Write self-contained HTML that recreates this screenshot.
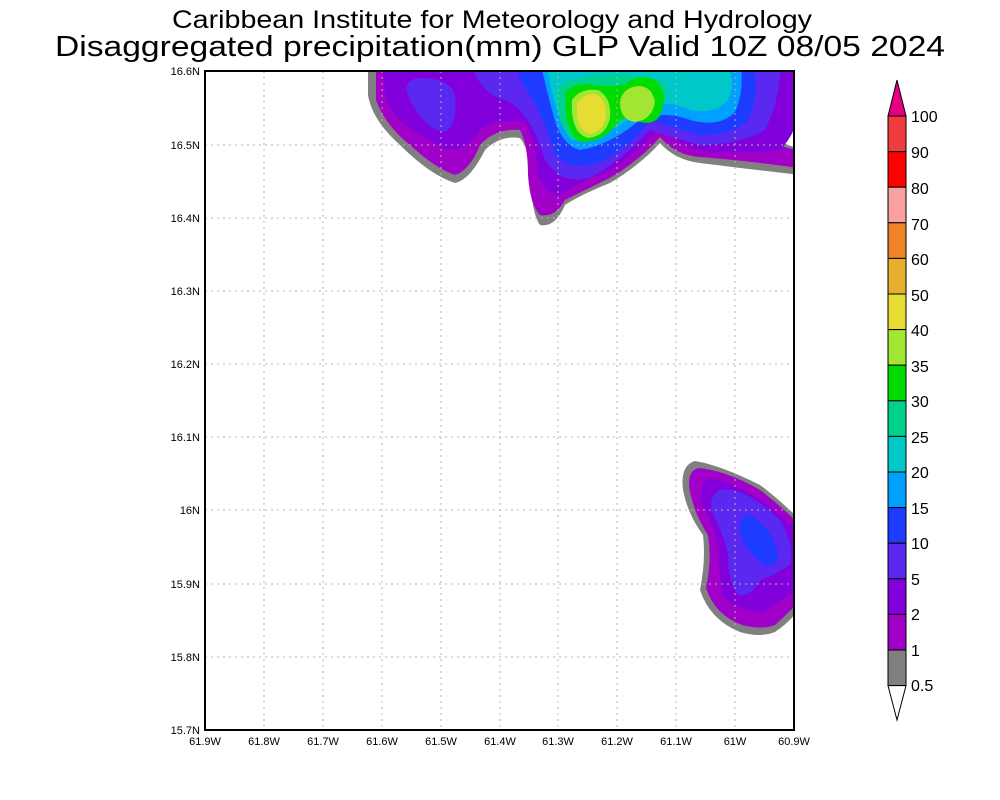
<!DOCTYPE html>
<html><head><style>
body{margin:0;background:#fff;}
svg{display:block;}
text{font-family:"Liberation Sans",sans-serif;}
</style></head><body>
<svg width="1000" height="800" xmlns="http://www.w3.org/2000/svg">
<rect width="1000" height="800" fill="#fff"/>
<text x="172" y="28" font-size="25" textLength="640" lengthAdjust="spacingAndGlyphs" fill="#000">Caribbean Institute for Meteorology and Hydrology</text>
<text x="55" y="56" font-size="29" textLength="890" lengthAdjust="spacingAndGlyphs" fill="#000">Disaggregated precipitation(mm) GLP Valid 10Z 08/05 2024</text>
<defs><clipPath id="c"><rect x="205" y="71" width="589" height="659"/></clipPath></defs>
<g clip-path="url(#c)">
<path fill="#808080" d="M368,60 L368,95 Q372,120 400,145 Q430,175 455,183 Q470,180 485,150 Q500,135 520,138 Q530,150 530,175 Q532,215 540,225 Q555,228 565,205 Q580,195 610,183 Q640,165 660,143 Q675,160 700,163 Q740,168 800,175 L800,148 Q780,145 772,133 Q778,120 800,118 L800,60 Z"/>
<path fill="#a000c8" d="M376,60 L376,100 Q385,125 410,145 Q435,168 455,175 Q470,170 480,145 Q495,128 520,130 Q528,145 528,175 Q530,205 540,215 Q555,218 565,200 Q585,190 610,178 Q640,160 660,137 Q675,155 700,157 Q740,160 800,168 L800,150 Q775,148 766,133 Q772,115 800,112 L800,60 Z"/>
<path fill="#8200dc" d="M385,60 Q380,95 395,115 Q420,140 450,150 Q470,148 480,130 Q495,118 525,122 Q535,140 538,175 Q545,195 560,195 Q580,182 610,170 Q640,150 660,128 Q680,145 700,150 Q740,155 780,150 Q795,135 800,110 L800,60 Z"/>
<path fill="#5a28f0" d="M470,60 Q480,95 505,100 Q530,110 545,160 Q560,185 590,178 Q620,162 650,130 Q680,140 700,145 Q740,145 765,130 Q775,110 778,90 Q782,70 780,60 Z"/>
<path fill="#5a28f0" d="M410,100 Q400,80 420,78 Q450,78 455,95 Q458,125 445,132 Q425,130 410,100 Z"/>
<path fill="#1e3cff" d="M515,60 Q518,80 530,95 Q545,120 555,155 Q570,172 600,162 Q630,148 650,120 Q680,130 700,135 Q735,135 748,120 Q758,100 755,75 L752,60 Z"/>
<path fill="#00a0ff" d="M540,60 Q545,85 552,110 Q560,145 580,150 Q610,145 640,120 Q665,110 690,120 Q720,128 735,112 Q745,90 740,60 Z"/>
<path fill="#00c8c8" d="M548,72 Q553,100 562,125 Q575,140 600,135 Q625,125 645,105 Q670,100 690,110 Q715,115 728,100 Q735,85 730,72 Z"/>
<path fill="#00d28c" d="M558,88 Q556,125 572,140 Q600,142 620,122 Q640,112 660,104 Q672,95 664,82 Q640,72 600,76 Q568,78 558,88 Z"/>
<path fill="#00dc00" d="M566,92 Q563,130 580,142 Q605,142 615,125 Q625,112 640,122 Q658,126 662,110 Q668,92 655,80 Q640,73 625,84 Q610,88 595,85 Q574,82 566,92 Z"/>
<path fill="#a0e632" d="M572,100 Q570,133 588,138 Q606,136 610,118 Q612,98 598,90 Q580,88 572,100 Z"/>
<path fill="#a0e632" d="M620,102 Q620,120 635,122 Q652,120 655,102 Q652,86 638,86 Q622,88 620,102 Z"/>
<path fill="#e6dc32" d="M577,104 Q575,130 590,134 Q603,132 606,116 Q606,98 595,94 Q582,94 577,104 Z"/>
<path fill="#808080" d="M695,461 Q680,465 683,490 Q688,515 703,535 Q706,560 700,590 Q710,620 740,632 Q760,638 775,632 Q790,622 800,608 L800,520 Q780,500 760,485 Q720,465 695,461 Z"/>
<path fill="#a000c8" d="M698,468 Q686,472 690,492 Q695,515 708,535 Q712,560 706,588 Q715,615 742,625 Q762,630 775,625 Q790,612 800,600 L800,525 Q780,505 760,490 Q725,470 698,468 Z"/>
<path fill="#8200dc" d="M710,478 Q697,485 703,505 Q713,525 718,545 Q720,575 722,595 Q740,612 762,612 Q785,600 800,585 L800,535 Q780,512 755,497 Q730,482 710,478 Z"/>
<path fill="#5a28f0" d="M720,490 Q708,497 712,512 Q722,530 728,555 Q728,582 738,595 Q752,597 760,580 Q775,575 790,565 Q795,545 780,520 Q760,500 740,492 Q728,488 720,490 Z"/>
<path fill="#1e3cff" d="M745,515 Q735,525 742,540 Q750,555 765,565 Q778,568 778,552 Q772,532 760,522 Q752,514 745,515 Z"/>
</g>
<g stroke="#b4b4b4" stroke-width="1" stroke-dasharray="2,4">
<line x1="264" y1="71" x2="264" y2="730"/><line x1="323" y1="71" x2="323" y2="730"/><line x1="382" y1="71" x2="382" y2="730"/><line x1="441" y1="71" x2="441" y2="730"/><line x1="500" y1="71" x2="500" y2="730"/><line x1="558" y1="71" x2="558" y2="730"/><line x1="617" y1="71" x2="617" y2="730"/><line x1="676" y1="71" x2="676" y2="730"/><line x1="735" y1="71" x2="735" y2="730"/>
<line x1="205" y1="145" x2="794" y2="145"/><line x1="205" y1="218" x2="794" y2="218"/><line x1="205" y1="291" x2="794" y2="291"/><line x1="205" y1="364" x2="794" y2="364"/><line x1="205" y1="437" x2="794" y2="437"/><line x1="205" y1="510" x2="794" y2="510"/><line x1="205" y1="584" x2="794" y2="584"/><line x1="205" y1="657" x2="794" y2="657"/>
</g>
<rect x="205" y="71" width="589" height="659" fill="none" stroke="#000" stroke-width="2"/>
<g font-size="11" text-anchor="end" fill="#000">
<text x="200" y="75">16.6N</text><text x="200" y="149">16.5N</text><text x="200" y="222">16.4N</text><text x="200" y="295">16.3N</text><text x="200" y="368">16.2N</text><text x="200" y="441">16.1N</text><text x="200" y="514">16N</text><text x="200" y="588">15.9N</text><text x="200" y="661">15.8N</text><text x="200" y="734">15.7N</text>
</g>
<g font-size="11" text-anchor="middle" fill="#000">
<text x="205" y="745">61.9W</text><text x="264" y="745">61.8W</text><text x="323" y="745">61.7W</text><text x="382" y="745">61.6W</text><text x="441" y="745">61.5W</text><text x="500" y="745">61.4W</text><text x="558" y="745">61.3W</text><text x="617" y="745">61.2W</text><text x="676" y="745">61.1W</text><text x="735" y="745">61W</text><text x="794" y="745">60.9W</text>
</g>
<g stroke="#000" stroke-width="1">
<polygon points="888,116 906,116 897,80" fill="#e6007f"/>
<rect x="888" y="116" width="18" height="35.6" fill="#f03c3c"/>
<rect x="888" y="151.6" width="18" height="35.6" fill="#ff0000"/>
<rect x="888" y="187.2" width="18" height="35.6" fill="#faa0a0"/>
<rect x="888" y="222.8" width="18" height="35.6" fill="#f08228"/>
<rect x="888" y="258.4" width="18" height="35.6" fill="#e6af2d"/>
<rect x="888" y="294" width="18" height="35.6" fill="#e6dc32"/>
<rect x="888" y="329.6" width="18" height="35.6" fill="#a0e632"/>
<rect x="888" y="365.2" width="18" height="35.6" fill="#00dc00"/>
<rect x="888" y="400.8" width="18" height="35.6" fill="#00d28c"/>
<rect x="888" y="436.4" width="18" height="35.6" fill="#00c8c8"/>
<rect x="888" y="472" width="18" height="35.6" fill="#00a0ff"/>
<rect x="888" y="507.6" width="18" height="35.6" fill="#1e3cff"/>
<rect x="888" y="543.2" width="18" height="35.6" fill="#5a28f0"/>
<rect x="888" y="578.8" width="18" height="35.6" fill="#8200dc"/>
<rect x="888" y="614.4" width="18" height="35.6" fill="#a000c8"/>
<rect x="888" y="650" width="18" height="35.6" fill="#808080"/>
<polygon points="888,685.6 906,685.6 897,720" fill="#fff"/>
</g>
<g font-size="16" fill="#000">
<text x="911" y="122">100</text><text x="911" y="158">90</text><text x="911" y="194">80</text><text x="911" y="230">70</text><text x="911" y="265">60</text><text x="911" y="301">50</text><text x="911" y="336">40</text><text x="911" y="372">35</text><text x="911" y="407">30</text><text x="911" y="443">25</text><text x="911" y="478">20</text><text x="911" y="514">15</text><text x="911" y="549">10</text><text x="911" y="585">5</text><text x="911" y="620">2</text><text x="911" y="656">1</text><text x="911" y="691">0.5</text>
</g>
</svg>
</body></html>
